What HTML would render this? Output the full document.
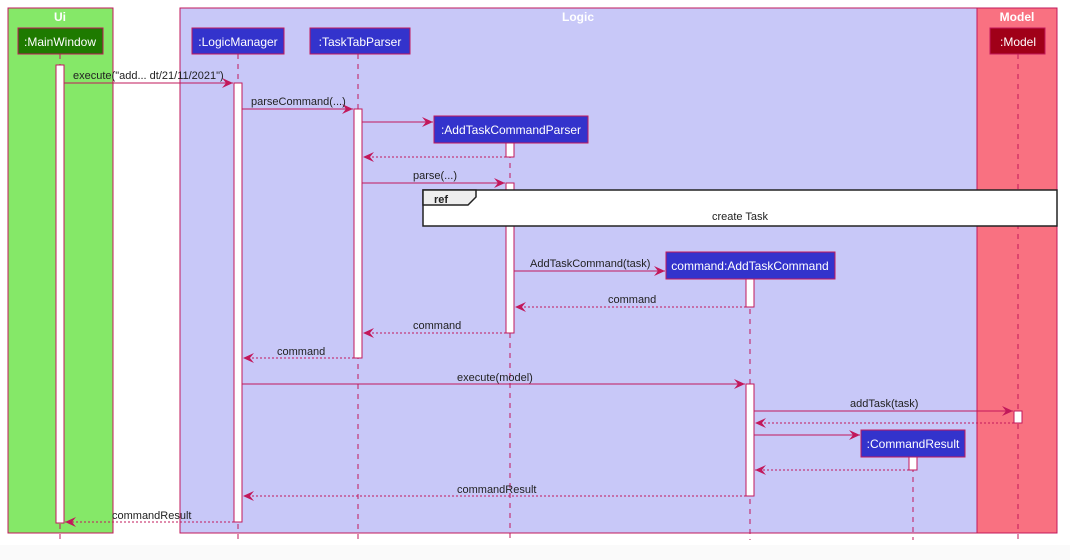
<!DOCTYPE html>
<html><head><meta charset="utf-8"><style>
html,body{margin:0;padding:0;background:#fff;}
svg{display:block;font-family:"Liberation Sans",sans-serif;}
</style></head><body>
<svg width="1070" height="560" viewBox="0 0 1070 560" xmlns="http://www.w3.org/2000/svg">
<defs>
<marker id="a" markerWidth="12" markerHeight="10" refX="11" refY="5" orient="auto" markerUnits="userSpaceOnUse">
<path d="M0,0 L11,5 L0,10 L4,5 Z" fill="#C2185B"/></marker>
</defs>
<rect x="0" y="545" width="1070" height="15" fill="#fafafa"/>
<!-- groups -->
<rect x="8" y="8" width="105" height="525" fill="#85E868" stroke="#C2185B"/>
<text x="60" y="21" font-size="12" font-weight="bold" fill="#fff" text-anchor="middle">Ui</text>
<rect x="180" y="8" width="797" height="525" fill="#C8C8F8" stroke="#C2185B"/>
<text x="578" y="21" font-size="12" font-weight="bold" fill="#fff" text-anchor="middle">Logic</text>
<rect x="977" y="8" width="80" height="525" fill="#F97181" stroke="#C2185B"/>
<text x="1017" y="21" font-size="12" font-weight="bold" fill="#fff" text-anchor="middle">Model</text>
<!-- lifelines -->
<g stroke="#C2185B" stroke-dasharray="5,5" stroke-width="1">
<line x1="60" y1="54" x2="60" y2="540"/>
<line x1="238" y1="54" x2="238" y2="540"/>
<line x1="358" y1="54" x2="358" y2="540"/>
<line x1="510" y1="143" x2="510" y2="540"/>
<line x1="750" y1="279" x2="750" y2="540"/>
<line x1="913" y1="457" x2="913" y2="540"/>
<line x1="1018" y1="54" x2="1018" y2="540"/>
</g>
<!-- participants -->
<g font-size="12" fill="#fff" text-anchor="middle">
<rect x="18" y="28" width="85" height="26" fill="#1E7A00" stroke="#C2185B"/>
<text x="60" y="46">:MainWindow</text>
<rect x="192" y="28" width="92" height="26" fill="#3333CC" stroke="#C2185B"/>
<text x="238" y="46">:LogicManager</text>
<rect x="310" y="28" width="100" height="26" fill="#3333CC" stroke="#C2185B"/>
<text x="360" y="46">:TaskTabParser</text>
<rect x="434" y="116" width="154" height="27" fill="#3333CC" stroke="#C2185B"/>
<text x="511" y="134">:AddTaskCommandParser</text>
<rect x="666" y="252" width="169" height="27" fill="#3333CC" stroke="#C2185B"/>
<text x="750" y="270">command:AddTaskCommand</text>
<rect x="861" y="430" width="104" height="27" fill="#3333CC" stroke="#C2185B"/>
<text x="913" y="448">:CommandResult</text>
<rect x="990" y="28" width="55" height="26" fill="#A00018" stroke="#C2185B"/>
<text x="1018" y="46">:Model</text>
</g>
<!-- activations -->
<g fill="#fff" stroke="#C2185B">
<rect x="56" y="65" width="8" height="458"/>
<rect x="234" y="83" width="8" height="439"/>
<rect x="354" y="109" width="8" height="249"/>
<rect x="506" y="143" width="8" height="14"/>
<rect x="506" y="183" width="8" height="150"/>
<rect x="746" y="279" width="8" height="28"/>
<rect x="746" y="384" width="8" height="112"/>
<rect x="909" y="457" width="8" height="13"/>
<rect x="1014" y="411" width="8" height="12"/>
</g>
<!-- messages -->
<g stroke="#C2185B" stroke-width="1" fill="none" marker-end="url(#a)">
<line x1="64" y1="83" x2="233" y2="83"/>
<line x1="242" y1="109" x2="353" y2="109"/>
<line x1="362" y1="122" x2="433" y2="122"/>
<line x1="506" y1="157" x2="363" y2="157" stroke-dasharray="2,2"/>
<line x1="362" y1="183" x2="505" y2="183"/>
<line x1="514" y1="271" x2="665" y2="271"/>
<line x1="746" y1="307" x2="515" y2="307" stroke-dasharray="2,2"/>
<line x1="506" y1="333" x2="363" y2="333" stroke-dasharray="2,2"/>
<line x1="354" y1="358" x2="243" y2="358" stroke-dasharray="2,2"/>
<line x1="242" y1="384" x2="745" y2="384"/>
<line x1="754" y1="411" x2="1013" y2="411"/>
<line x1="1014" y1="423" x2="755" y2="423" stroke-dasharray="2,2"/>
<line x1="754" y1="435" x2="860" y2="435"/>
<line x1="909" y1="470" x2="755" y2="470" stroke-dasharray="2,2"/>
<line x1="746" y1="496" x2="243" y2="496" stroke-dasharray="2,2"/>
<line x1="234" y1="522" x2="65" y2="522" stroke-dasharray="2,2"/>
</g>
<!-- ref -->
<rect x="423" y="190" width="634" height="36" fill="#fff" stroke="#222" stroke-width="1.5"/>
<path d="M423,190 L476,190 L476,197 L468,205 L423,205 Z" fill="#eee" stroke="#222" stroke-width="1.5"/>
<text x="434" y="203" font-size="11" font-weight="bold" fill="#222">ref</text>
<text x="740" y="220" font-size="11" fill="#222" text-anchor="middle">create Task</text>
<!-- labels -->
<g font-size="11" fill="#222">
<text x="73" y="79">execute("add... dt/21/11/2021")</text>
<text x="251" y="105">parseCommand(...)</text>
<text x="413" y="179">parse(...)</text>
<text x="530" y="267">AddTaskCommand(task)</text>
<text x="608" y="303">command</text>
<text x="413" y="329">command</text>
<text x="277" y="355">command</text>
<text x="457" y="381">execute(model)</text>
<text x="850" y="407">addTask(task)</text>
<text x="457" y="493">commandResult</text>
<text x="112" y="519">commandResult</text>
</g>
</svg>
</body></html>
